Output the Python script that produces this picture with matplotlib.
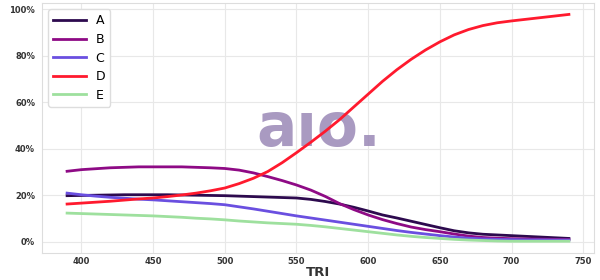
import matplotlib
matplotlib.use("Agg")
import matplotlib.pyplot as plt
from matplotlib.ticker import PercentFormatter

# TRI values on the x axis
tri = [390, 400, 410, 420, 430, 440, 450, 460, 470, 480, 490, 500,
       510, 520, 530, 540, 550, 560, 570, 580, 590, 600, 610, 620,
       630, 640, 650, 660, 670, 680, 690, 700, 710, 720, 730, 740]

# share of each group (%)
a_vals = [19.8, 19.9, 20.0, 20.1, 20.2, 20.2, 20.2, 20.2, 20.1, 20.0, 19.9, 19.8,
          19.6, 19.4, 19.2, 19.0, 18.8, 18.2, 17.3, 16.2, 14.8, 13.2, 11.5, 10.2,
          8.8, 7.4, 6.0, 4.7, 3.8, 3.2, 2.9, 2.6, 2.3, 2.0, 1.7, 1.4]
b_vals = [30.3, 31.0, 31.4, 31.8, 32.0, 32.2, 32.2, 32.2, 32.2, 32.0, 31.8, 31.5,
          30.8, 29.6, 28.0, 26.3, 24.4, 22.2, 19.5, 16.4, 13.8, 11.5, 9.5, 7.8,
          6.3, 5.2, 4.3, 3.3, 2.4, 1.8, 1.5, 1.3, 1.2, 1.1, 1.0, 0.9]
c_vals = [20.9, 20.2, 19.6, 19.1, 18.7, 18.3, 18.0, 17.6, 17.2, 16.8, 16.4, 15.9,
          15.0, 14.1, 13.1, 12.1, 11.1, 10.2, 9.3, 8.4, 7.5, 6.6, 5.7, 4.8,
          4.0, 3.3, 2.6, 2.0, 1.5, 1.2, 1.0, 0.9, 0.8, 0.8, 0.7, 0.7]
d_vals = [16.2, 16.6, 17.0, 17.4, 17.9, 18.4, 18.8, 19.4, 20.1, 20.9, 21.9, 23.1,
          25.0, 27.3, 30.2, 34.0, 38.3, 42.8, 47.5, 52.5, 58.0, 63.5, 69.0, 74.0,
          78.5, 82.5, 86.0, 89.0, 91.3, 93.0, 94.2, 95.0, 95.7, 96.4, 97.1, 97.8]
e_vals = [12.3, 12.1, 11.9, 11.7, 11.5, 11.3, 11.1, 10.8, 10.5, 10.1, 9.8, 9.4,
          8.9, 8.5, 8.1, 7.8, 7.5, 7.0, 6.4, 5.7, 5.0, 4.3, 3.6, 2.9,
          2.3, 1.8, 1.4, 1.0, 0.7, 0.5, 0.3, 0.2, 0.2, 0.2, 0.2, 0.2]

labels = ['A', 'B', 'C', 'D', 'E']
colors = ['#2d0a4e', '#8e0a85', '#6a4fe0', '#ff1a2e', '#9ee09e']
series = [a_vals, b_vals, c_vals, d_vals, e_vals]

fig = plt.figure(figsize=(6, 2.8), dpi=100)
ax = fig.add_axes([0.07, 0.098, 0.92, 0.891])

# watermark behind the lines
ax.text(0.502, 0.495, 'a\u0131o.', transform=ax.transAxes, ha='center', va='center',
        fontsize=43, fontweight='bold', color='#9a88b6', alpha=0.85, zorder=1)

for vals, lab, col in zip(series, labels, colors):
    ax.plot(tri, [v / 100 for v in vals], color=col, lw=2.0, label=lab, zorder=3)

ax.yaxis.set_major_formatter(PercentFormatter(1.0, decimals=0))
ax.set_yticks([0, 0.2, 0.4, 0.6, 0.8, 1.0])
ax.set_xticks([400, 450, 500, 550, 600, 650, 700, 750])
ax.grid(True, color='#e8e8e8', lw=0.8, zorder=0)
ax.set_axisbelow(True)
for s in ax.spines.values():
    s.set_color('#dddddd')
ax.tick_params(axis='y', length=0, pad=5, labelsize=6, labelcolor='#333333')
ax.tick_params(axis='x', length=0, pad=3, labelsize=6, labelcolor='#333333')
for t in ax.get_xticklabels() + ax.get_yticklabels():
    t.set_fontweight('bold')

ax.set_xlabel('TRI', fontsize=9.5, fontweight='bold', color='#333333', labelpad=0)

ax.legend(loc='upper left', fontsize=9, handlelength=2.6, labelspacing=0.45,
          frameon=True, edgecolor='#dddddd', framealpha=1)

fig.savefig('out.png', dpi=100)
